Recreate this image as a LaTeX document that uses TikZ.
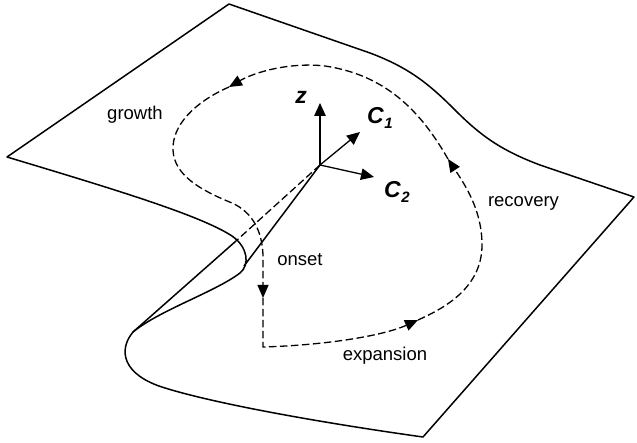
\documentclass[tikz,border=0pt]{standalone}
\usepackage{fontspec}
\setmainfont{Liberation Sans}
\usetikzlibrary{arrows.meta}
\begin{document}
\begin{tikzpicture}[x=1pt,y=-1pt,
  surf/.style={line width=1.5pt, line join=round},
  hid/.style={line width=1.3pt, dash pattern=on 7.5pt off 3.5pt},
  looptip/.style={-{Triangle[length=13pt,width=11pt]}},
  axis/.style={line width=1.3pt,-{Triangle[length=13pt,width=11.5pt]}},
  lab/.style={font=\fontsize{18.5}{20}\selectfont, inner sep=0pt},
  axlab/.style={font=\fontsize{23}{24}\selectfont\bfseries\itshape, inner sep=0pt}]
\fill[white] (0,0) rectangle (637,443);
\useasboundingbox (0,0) rectangle (637,443);
% key points
\coordinate (O) at (320,165);
\coordinate (cusp) at (133,332);
\coordinate (cross) at (236,241);
\coordinate (foldlow) at (244,266);
\coordinate (ztip) at (320,103);
\coordinate (c1tip) at (360,132);
\coordinate (c2tip) at (374,177);
\coordinate (tOnset) at (263,298);
\coordinate (tExp) at (418,320);
\coordinate (tRec) at (448,159);
\coordinate (tGro) at (229,87);
\coordinate (corner) at (263,347);
% surface outline
\draw[surf] (229,4) -- (7,157)
  .. controls (110,188) and (200,215) .. (232,236)
  .. controls (248,247) and (250,265) .. (240,273)
  .. controls (215,292) and (160,310) .. (cusp)
  .. controls (118,350) and (122,375) .. (165,388)
  .. controls (220,405) and (330,424) .. (423,437)
  -- (634,197) -- (540,165)
  .. controls (500,150) and (480,135) .. (455,110)
  .. controls (430,85) and (410,68) .. (370,53) -- cycle;
% fold lines
\draw[hid] (O) -- (cross);
\draw[surf] (cross) -- (cusp);
\draw[surf] (O) -- (foldlow);
% axes
\draw[axis] (O) -- (ztip);
\draw[axis] (O) -- (c1tip);
\draw[axis] (O) -- (c2tip);
% dashed cycle
\draw[hid, looptip] (tOnset) -- (corner)
  .. controls (330,345) and (385,335) .. (tExp);
\draw[hid, looptip] (tExp) .. controls (440,310) and (482,290) .. (482,245)
  .. controls (482,210) and (465,185) .. (tRec);
\draw[hid, looptip] (tRec) .. controls (420,110) and (385,75) .. (325,66)
  .. controls (290,62) and (255,72) .. (tGro);
\draw[hid, looptip] (tGro) .. controls (195,102) and (172,125) .. (173,150)
  .. controls (174,175) and (200,190) .. (232,203)
  .. controls (252,212) and (262,230) .. (263,255) -- (tOnset);
% labels
\node[axlab, anchor=base] (zl) at (301,104) {z};
\node[axlab, anchor=base west] (c1l) at (367,124) {C\kern0.5pt\raisebox{-5pt}{\fontsize{15}{15}\selectfont 1}};
\node[axlab, anchor=base west] (c2l) at (384,198) {C\kern0.5pt\raisebox{-5pt}{\fontsize{15}{15}\selectfont 2}};
\node[lab, anchor=base] (growth) at (135,120) {growth};
\node[lab, anchor=base] (recovery) at (523.5,207) {recovery};
\node[lab, anchor=base] (onset) at (300,266) {onset};
\node[lab, anchor=base] (expansion) at (385,361) {expansion};
\end{tikzpicture}
\end{document}
